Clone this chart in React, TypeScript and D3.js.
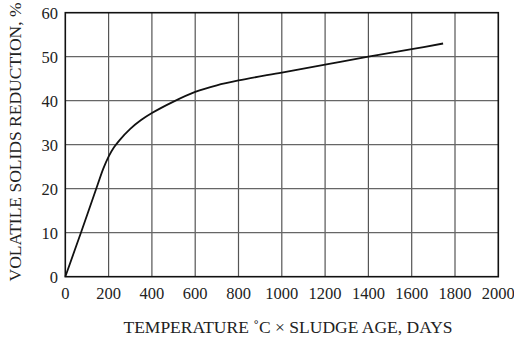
import React from "react";
import * as d3 from "d3";

const xTicks = [0, 200, 400, 600, 800, 1000, 1200, 1400, 1600, 1800, 2000];
const yTicks = [0, 10, 20, 30, 40, 50, 60];
const curveX = [0, 75, 150, 175, 200, 225, 250, 300, 350, 400, 500, 600, 700, 800, 1000, 1200, 1400, 1600, 1745];
const curveY = [0, 10.4, 21, 24.5, 27.3, 29.4, 31.0, 33.6, 35.6, 37.2, 39.8, 42, 43.5, 44.6, 46.4, 48.2, 50, 51.7, 53];
const xTitle = "TEMPERATURE ˚C × SLUDGE AGE, DAYS";
const yTitle = "VOLATILE SOLIDS REDUCTION, %";

export default function App() {
  const W = 514, H = 339;
  const left = 65.3, right = 498.3, top = 12.7, bottom = 276.7;
  const x = d3.scaleLinear().domain([0, 2000]).range([left, right]);
  const y = d3.scaleLinear().domain([0, 60]).range([bottom, top]);
  const pts = curveX.map((v, i) => [v, curveY[i]] as [number, number]);
  const line = d3.line<[number, number]>().x(d => x(d[0])).y(d => y(d[1])).curve(d3.curveCatmullRom.alpha(0.5));
  const font = "Liberation Serif, DejaVu Serif, Times New Roman, serif";
  return (
    <svg width={W} height={H} style={{ position: "absolute", left: 0, top: 0, background: "#fff" }}>
      <rect x={0} y={0} width={W} height={H} fill="#fff" />
      {xTicks.slice(1, -1).map(t => (
        <line key={"vx" + t} x1={x(t)} x2={x(t)} y1={top} y2={bottom} stroke="#555" strokeWidth={1.2} />
      ))}
      {yTicks.slice(1, -1).map(t => (
        <line key={"hy" + t} x1={left} x2={right} y1={y(t)} y2={y(t)} stroke="#666" strokeWidth={1.2} />
      ))}
      <rect x={left} y={top} width={right - left} height={bottom - top} fill="none" stroke="#111" strokeWidth={1.6} />
      <path d={line(pts) || ""} fill="none" stroke="#111" strokeWidth={1.8} />
      <g style={{ fontFamily: font }} fill="#222">
        {xTicks.map(t => (
          <text key={"xt" + t} x={x(t)} y={299} textAnchor="middle" fontSize={16.5}>{t}</text>
        ))}
        {yTicks.map(t => (
          <text key={"yt" + t} x={58} y={y(t) + 6} textAnchor="end" fontSize={16.5}>{t}</text>
        ))}
        <text x={288} y={333} textAnchor="middle" fontSize={17.5}>{xTitle}</text>
        <text transform={`translate(21,142) rotate(-90)`} textAnchor="middle" fontSize={17.5}>{yTitle}</text>
      </g>
    </svg>
  );
}
